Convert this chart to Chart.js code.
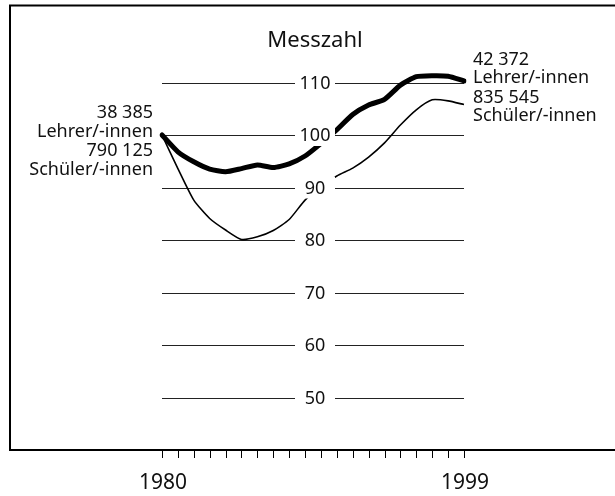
<!DOCTYPE html>
<html>
<head>
<meta charset="utf-8">
<script src="https://cdn.jsdelivr.net/npm/chart.js@4.4.1/dist/chart.umd.min.js"></script>
<style>
  html, body { margin: 0; padding: 0; background: #fff; }
  #wrap { width: 615px; height: 496px; }
</style>
</head>
<body>
<div id="wrap"><canvas id="chart" width="615" height="496"></canvas></div>
<script>
// Messzahl (1980 = 100), Lehrer/-innen und Schüler/-innen
const years = ['1980', '1981', '1982', '1983', '1984', '1985', '1986', '1987', '1988', '1989',
               '1990', '1991', '1992', '1993', '1994', '1995', '1996', '1997', '1998', '1999'];
const lehrer = [100, 96.8, 94.9, 93.5, 93.0, 93.6, 94.3, 93.8, 94.5, 96.0,
                98.4, 101.0, 103.9, 105.7, 106.8, 109.5, 111.1, 111.3, 111.2, 110.3];
const schueler = [100, 93.6, 87.6, 84.1, 81.9, 80.1, 80.6, 81.8, 83.9, 87.6,
                  90.1, 92.2, 93.7, 95.8, 98.5, 101.9, 104.8, 106.7, 106.5, 105.8];
const yTicks = [50, 60, 70, 80, 90, 100, 110];
const yearLabels = ['1980', '1999'];
const leftLabels = ['38 385', 'Lehrer/-innen', '790 125', 'Schüler/-innen'];
const rightLehrer = ['42 372', 'Lehrer/-innen'];
const rightSchueler = ['835 545', 'Schüler/-innen'];
const title = 'Messzahl';

const FONT = '"Noto Sans", "Open Sans", sans-serif';

const decor = {
  id: 'decor',
  beforeDatasetsDraw(chart) {
    const { ctx, chartArea, scales } = chart;
    ctx.save();
    ctx.strokeStyle = '#222';
    ctx.lineWidth = 1;
    yTicks.forEach(v => {
      const y = Math.round(scales.y.getPixelForValue(v)) + 0.5;
      ctx.beginPath();
      ctx.moveTo(chartArea.left, y);
      ctx.lineTo(chartArea.right, y);
      ctx.stroke();
    });
    ctx.restore();
  },
  afterDatasetsDraw(chart) {
    const { ctx, chartArea, scales } = chart;
    const cx = (chartArea.left + chartArea.right) / 2 + 2;
    ctx.save();

    // tick labels with white box over lines
    ctx.font = '18px ' + FONT;
    ctx.textAlign = 'center';
    ctx.textBaseline = 'middle';
    yTicks.forEach(v => {
      const y = scales.y.getPixelForValue(v);
      ctx.fillStyle = '#fff';
      ctx.fillRect(cx - 20, y - 11, 40, 22);
      ctx.fillStyle = '#111';
      ctx.fillText(String(v), cx, y + 1);
    });

    // title
    ctx.font = '22px ' + FONT;
    ctx.fillText(title, cx, 41);

    // left labels
    const x0 = scales.x.getPixelForValue(0);
    const y0 = scales.y.getPixelForValue(lehrer[0]);
    ctx.font = '18px ' + FONT;
    ctx.textAlign = 'right';
    leftLabels.forEach((t, i) => ctx.fillText(t, x0 - 9, y0 - 22 + i * 19));

    // right labels
    const xN = scales.x.getPixelForValue(years.length - 1);
    ctx.textAlign = 'left';
    const yL = scales.y.getPixelForValue(lehrer[lehrer.length - 1]);
    const yS = scales.y.getPixelForValue(schueler[schueler.length - 1]);
    rightLehrer.forEach((t, i) => ctx.fillText(t, xN + 9, yL - 21 + i * 18));
    rightSchueler.forEach((t, i) => ctx.fillText(t, xN + 9, yS - 7 + i * 18));

    // frame (left, top, bottom)
    ctx.strokeStyle = '#000';
    ctx.lineWidth = 2;
    ctx.beginPath();
    ctx.moveTo(620, 5.5);
    ctx.lineTo(10, 5.5);
    ctx.lineTo(10, 450);
    ctx.lineTo(620, 450);
    ctx.stroke();

    // year ticks below frame
    ctx.lineWidth = 1;
    years.forEach((_, i) => {
      const x = Math.round(scales.x.getPixelForValue(i)) + 0.5;
      ctx.beginPath();
      ctx.moveTo(x, 451);
      ctx.lineTo(x, 458);
      ctx.stroke();
    });

    // year labels
    ctx.font = '21px ' + FONT;
    ctx.textAlign = 'center';
    ctx.fillStyle = '#111';
    yearLabels.forEach(t => {
      const i = years.indexOf(t);
      ctx.fillText(t, scales.x.getPixelForValue(i) + 1, 483);
    });
    ctx.restore();
  }
};

new Chart(document.getElementById('chart').getContext('2d'), {
  type: 'line',
  data: {
    labels: years,
    datasets: [
      {
        label: 'Lehrer/-innen',
        data: lehrer,
        borderColor: '#000',
        borderWidth: 5,
        borderJoinStyle: 'round',
        borderCapStyle: 'round',
        pointRadius: 0,
        tension: 0.2
      },
      {
        label: 'Schüler/-innen',
        data: schueler,
        borderColor: '#000',
        borderWidth: 1.6,
        pointRadius: 0,
        tension: 0.2
      }
    ]
  },
  options: {
    responsive: false,
    animation: false,
    layout: { padding: { left: 162, right: 151, top: 30, bottom: 46 } },
    plugins: { legend: { display: false }, tooltip: { enabled: false } },
    scales: {
      x: { display: false, offset: false },
      y: { display: false, min: 40, max: 120 }
    }
  },
  plugins: [decor]
});
</script>
</body>
</html>
